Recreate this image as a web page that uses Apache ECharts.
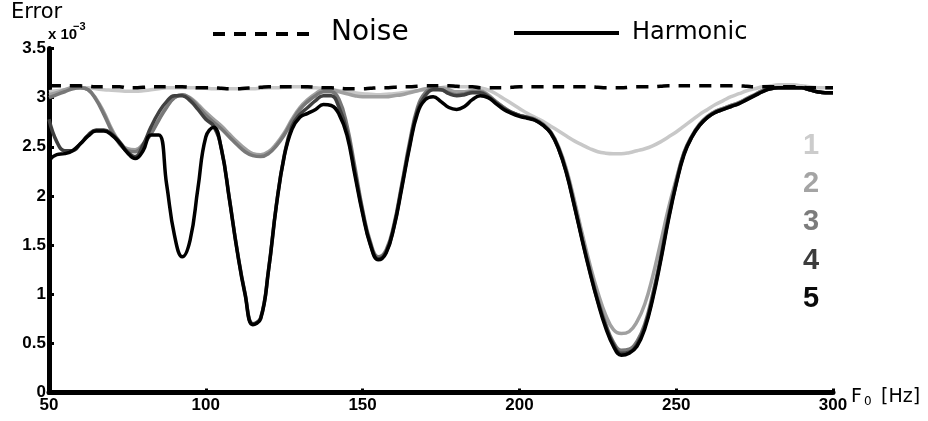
<!DOCTYPE html>
<html>
<head>
<meta charset="utf-8">
<script src="https://cdn.jsdelivr.net/npm/echarts@6/dist/echarts.min.js"></script>
<style>
  html, body { margin: 0; padding: 0; background: #fff; }
  #chart { width: 928px; height: 421px; }
</style>
</head>
<body>
<div id="chart"></div>
<script>
// F0 grid [Hz]
var freqs = [
  50, 52.5, 55, 57.5, 60, 62.5, 65, 67.5, 70, 72.5,
  75, 77.5, 80, 82.5, 85, 87.5, 90, 92.5, 95, 97.5,
  100, 102.5, 105, 107.5, 110, 112.5, 115, 117.5, 120, 122.5,
  125, 127.5, 130, 132.5, 135, 137.5, 140, 142.5, 145, 147.5,
  150, 152.5, 155, 157.5, 160, 162.5, 165, 167.5, 170, 172.5,
  175, 177.5, 180, 182.5, 185, 187.5, 190, 192.5, 195, 197.5,
  200, 202.5, 205, 207.5, 210, 212.5, 215, 217.5, 220, 222.5,
  225, 227.5, 230, 232.5, 235, 237.5, 240, 242.5, 245, 247.5,
  250, 252.5, 255, 257.5, 260, 262.5, 265, 267.5, 270, 272.5,
  275, 277.5, 280, 282.5, 285, 287.5, 290, 292.5, 295, 297.5,
  300
];

// error x 10^-3
var noise = [
  3.12, 3.12, 3.12, 3.12, 3.12, 3.115, 3.11, 3.11, 3.11, 3.11,
  3.10, 3.10, 3.105, 3.11, 3.11, 3.11, 3.11, 3.11, 3.105, 3.10,
  3.10, 3.10, 3.095, 3.09, 3.09, 3.095, 3.10, 3.105, 3.11, 3.11,
  3.11, 3.11, 3.11, 3.11, 3.105, 3.10, 3.10, 3.095, 3.09, 3.09,
  3.09, 3.095, 3.10, 3.10, 3.105, 3.11, 3.11, 3.115, 3.12, 3.12,
  3.12, 3.12, 3.115, 3.11, 3.11, 3.10, 3.10, 3.10, 3.10, 3.105,
  3.11, 3.11, 3.11, 3.11, 3.11, 3.11, 3.11, 3.11, 3.11, 3.11,
  3.105, 3.10, 3.10, 3.10, 3.105, 3.11, 3.11, 3.11, 3.115, 3.12,
  3.12, 3.12, 3.12, 3.12, 3.12, 3.12, 3.12, 3.12, 3.12, 3.115,
  3.11, 3.11, 3.11, 3.11, 3.11, 3.11, 3.105, 3.10, 3.10, 3.10,
  3.10
];

var harm1 = [
  3.06, 3.07, 3.08, 3.09, 3.10, 3.10, 3.09, 3.08, 3.075, 3.07,
  3.065, 3.065, 3.07, 3.08, 3.09, 3.10, 3.10, 3.10, 3.10, 3.10,
  3.095, 3.09, 3.09, 3.09, 3.09, 3.09, 3.09, 3.095, 3.10, 3.10,
  3.105, 3.11, 3.11, 3.10, 3.10, 3.09, 3.08, 3.07, 3.06, 3.05,
  3.04, 3.035, 3.03, 3.035, 3.04, 3.05, 3.06, 3.07, 3.08, 3.09,
  3.10, 3.11, 3.11, 3.11, 3.11, 3.10, 3.08, 3.04, 2.99, 2.94,
  2.89, 2.84, 2.80, 2.76, 2.71, 2.66, 2.61, 2.56, 2.52, 2.48,
  2.45, 2.435, 2.43, 2.43, 2.44, 2.46, 2.48, 2.51, 2.55, 2.60,
  2.65, 2.71, 2.77, 2.83, 2.88, 2.93, 2.97, 3.01, 3.04, 3.07,
  3.09, 3.11, 3.12, 3.13, 3.13, 3.13, 3.12, 3.11, 3.10, 3.10,
  3.10
];

var harm2 = [
  3.03, 3.05, 3.08, 3.10, 3.10, 3.08, 2.99, 2.85, 2.68, 2.55,
  2.48, 2.47, 2.53, 2.64, 2.78, 2.91, 3.00, 3.03, 3.00, 2.93,
  2.85, 2.78, 2.71, 2.63, 2.55, 2.48, 2.43, 2.42, 2.45, 2.53,
  2.64, 2.78, 2.90, 2.98, 3.04, 3.08, 3.08, 3.06, 3.04, 3.02,
  3.01, 3.01, 3.01, 3.01, 3.02, 3.03, 3.05, 3.07, 3.09, 3.10,
  3.10, 3.08, 3.06, 3.06, 3.07, 3.07, 3.03, 2.96, 2.90, 2.85,
  2.82, 2.80, 2.78, 2.73, 2.65, 2.50, 2.27, 1.96, 1.62, 1.30,
  1.02, 0.79, 0.64, 0.60, 0.62, 0.72, 0.90, 1.18, 1.52, 1.87,
  2.17, 2.44, 2.61, 2.73, 2.81, 2.86, 2.89, 2.92, 2.95, 2.99,
  3.03, 3.07, 3.09, 3.10, 3.10, 3.10, 3.10, 3.08, 3.06, 3.05,
  3.05
];

var harm3 = [
  3.00, 3.03, 3.06, 3.09, 3.10, 3.08, 2.98, 2.83, 2.66, 2.53,
  2.46, 2.45, 2.52, 2.63, 2.77, 2.90, 3.00, 3.03, 2.99, 2.91,
  2.82, 2.75, 2.68, 2.60, 2.52, 2.45, 2.41, 2.40, 2.43, 2.51,
  2.62, 2.76, 2.88, 2.96, 3.02, 3.06, 3.06, 2.98, 2.72, 2.30,
  1.86, 1.53, 1.38, 1.45, 1.71, 2.12, 2.55, 2.90, 3.05, 3.09,
  3.08, 3.05, 3.03, 3.04, 3.06, 3.06, 3.02, 2.96, 2.90, 2.85,
  2.82, 2.80, 2.78, 2.73, 2.65, 2.49, 2.25, 1.92, 1.57, 1.25,
  0.95, 0.70, 0.51, 0.43, 0.44, 0.52, 0.70, 1.00, 1.37, 1.79,
  2.15, 2.44, 2.61, 2.73, 2.81, 2.86, 2.89, 2.92, 2.95, 2.99,
  3.03, 3.07, 3.09, 3.10, 3.10, 3.10, 3.10, 3.08, 3.06, 3.05,
  3.05
];

var harm4 = [
  2.78, 2.55, 2.46, 2.46, 2.53, 2.62, 2.67, 2.67, 2.63, 2.55,
  2.45, 2.40, 2.52, 2.70, 2.85, 2.96, 3.02, 3.02, 2.97, 2.88,
  2.78, 2.71, 2.48, 1.98, 1.45, 1.01, 0.70, 0.76, 1.25, 1.91,
  2.41, 2.71, 2.83, 2.90, 2.97, 3.02, 3.02, 2.90, 2.66, 2.25,
  1.84, 1.51, 1.36, 1.43, 1.69, 2.10, 2.52, 2.87, 3.02, 3.08,
  3.08, 3.04, 3.02, 3.03, 3.05, 3.05, 3.01, 2.95, 2.89, 2.85,
  2.82, 2.80, 2.77, 2.72, 2.64, 2.48, 2.24, 1.91, 1.56, 1.23,
  0.93, 0.68, 0.49, 0.40, 0.41, 0.49, 0.67, 0.97, 1.35, 1.77,
  2.13, 2.43, 2.60, 2.72, 2.80, 2.85, 2.88, 2.91, 2.94, 2.98,
  3.02, 3.06, 3.09, 3.10, 3.10, 3.10, 3.10, 3.08, 3.06, 3.05,
  3.05
];

var harm5 = [
  2.36, 2.42, 2.43, 2.46, 2.53, 2.61, 2.66, 2.66, 2.62, 2.54,
  2.44, 2.38, 2.46, 2.62, 2.62, 2.12, 1.60, 1.38, 1.55, 2.08,
  2.60, 2.70, 2.47, 1.97, 1.44, 1.00, 0.69, 0.75, 1.24, 1.90,
  2.40, 2.68, 2.80, 2.84, 2.88, 2.93, 2.92, 2.83, 2.62, 2.22,
  1.82, 1.50, 1.35, 1.42, 1.68, 2.08, 2.50, 2.84, 2.98, 3.01,
  2.96, 2.90, 2.88, 2.91, 2.98, 3.02, 3.00, 2.94, 2.88, 2.84,
  2.81, 2.79, 2.77, 2.72, 2.64, 2.48, 2.23, 1.90, 1.55, 1.22,
  0.92, 0.66, 0.47, 0.38, 0.40, 0.47, 0.65, 0.95, 1.33, 1.75,
  2.12, 2.42, 2.60, 2.72, 2.80, 2.85, 2.88, 2.91, 2.94, 2.98,
  3.02, 3.06, 3.09, 3.10, 3.10, 3.10, 3.10, 3.08, 3.06, 3.05,
  3.05
];

var harmNames = ['1', '2', '3', '4', '5'];
var harmColors = ['#c8c8c8', '#a0a0a0', '#787878', '#404040', '#000000'];
var numberColors = ['#cccccc', '#a4a4a4', '#7c7c7c', '#3c3c3c', '#0a0a0a'];
var xTicks = [50, 100, 150, 200, 250, 300];
var yTicks = [0, 0.5, 1, 1.5, 2, 2.5, 3, 3.5];

var axisFont = '"Liberation Sans Narrow", "Liberation Sans", Arial, sans-serif';
var textFont = '"DejaVu Sans", sans-serif';

function pairs(values) {
  return freqs.map(function (f, i) { return [f, values[i]]; });
}

var chart = echarts.init(document.getElementById('chart'), null, { renderer: 'canvas' });

var series = [harm1, harm2, harm3, harm4, harm5].map(function (vals, i) {
  return {
    name: harmNames[i],
    type: 'line',
    data: pairs(vals),
    smooth: 0.45,
    showSymbol: false,
    silent: true,
    lineStyle: { color: harmColors[i], width: 3.5 },
    z: 2 + i
  };
});

// noise on top, dashed
series.push({
  name: 'Noise',
  type: 'line',
  data: pairs(noise),
  smooth: 0.45,
  showSymbol: false,
  silent: true,
  lineStyle: { color: '#000', width: 3.5, type: [12, 9] },
  z: 10
});

// numbers on the right, one per harmonic curve
var numberTexts = harmNames.map(function (n, i) {
  return {
    type: 'text',
    x: 811, y: 146 + i * 38.2,
    style: {
      text: n, fill: numberColors[i],
      font: 'bold 29px "Liberation Sans", Arial, sans-serif',
      textAlign: 'center', textVerticalAlign: 'middle'
    }
  };
});

var option = {
  animation: false,
  backgroundColor: '#fff',
  grid: { left: 49, right: 95, top: 48.5, bottom: 28.5 },
  xAxis: {
    type: 'value',
    min: xTicks[0],
    max: xTicks[xTicks.length - 1],
    interval: xTicks[1] - xTicks[0],
    axisLine: { lineStyle: { color: '#000', width: 5 } },
    axisTick: { inside: true, length: 4, lineStyle: { color: '#000', width: 3 } },
    axisLabel: { color: '#000', fontFamily: axisFont, fontWeight: 'bold', fontSize: 17, margin: 4 },
    splitLine: { show: false }
  },
  yAxis: {
    type: 'value',
    min: yTicks[0],
    max: yTicks[yTicks.length - 1],
    interval: yTicks[1] - yTicks[0],
    axisLine: { show: true, onZero: false, lineStyle: { color: '#000', width: 5 } },
    axisTick: { show: true, inside: true, length: 5, lineStyle: { color: '#000', width: 3 } },
    axisLabel: { color: '#000', fontFamily: axisFont, fontWeight: 'bold', fontSize: 17, margin: 3 },
    splitLine: { show: false }
  },
  series: series,
  graphic: [
    { type: 'text', x: 11, y: 13,
      style: { text: 'Error', font: '21px ' + textFont, fill: '#000', textVerticalAlign: 'middle' } },
    { type: 'text', x: 48, y: 35,
      style: { text: 'x 10', font: 'bold 15px ' + axisFont, fill: '#000', textVerticalAlign: 'middle' } },
    { type: 'text', x: 73, y: 27,
      style: { text: '\u22123', font: 'bold 11px ' + axisFont, fill: '#000', textVerticalAlign: 'middle' } },
    // legend
    { type: 'line', shape: { x1: 213, y1: 34, x2: 318, y2: 34 },
      style: { stroke: '#000', lineWidth: 4, lineDash: [12, 9] } },
    { type: 'text', x: 331, y: 33,
      style: { text: 'Noise', font: '28px ' + textFont, fill: '#000', textVerticalAlign: 'middle' } },
    { type: 'line', shape: { x1: 514, y1: 33, x2: 619, y2: 33 },
      style: { stroke: '#000', lineWidth: 4 } },
    { type: 'text', x: 632, y: 33,
      style: { text: 'Harmonic', font: '24px ' + textFont, fill: '#000', textVerticalAlign: 'middle' } },
    // x axis name F0 [Hz]
    { type: 'text', x: 851, y: 397,
      style: { text: 'F', font: '19px ' + textFont, fill: '#000', textVerticalAlign: 'middle' } },
    { type: 'text', x: 864, y: 402,
      style: { text: '0', font: '12px ' + textFont, fill: '#000', textVerticalAlign: 'middle' } },
    { type: 'text', x: 881, y: 397,
      style: { text: '[Hz]', font: '19px ' + textFont, fill: '#000', textVerticalAlign: 'middle' } }
  ].concat(numberTexts)
};

chart.setOption(option);
</script>
</body>
</html>
